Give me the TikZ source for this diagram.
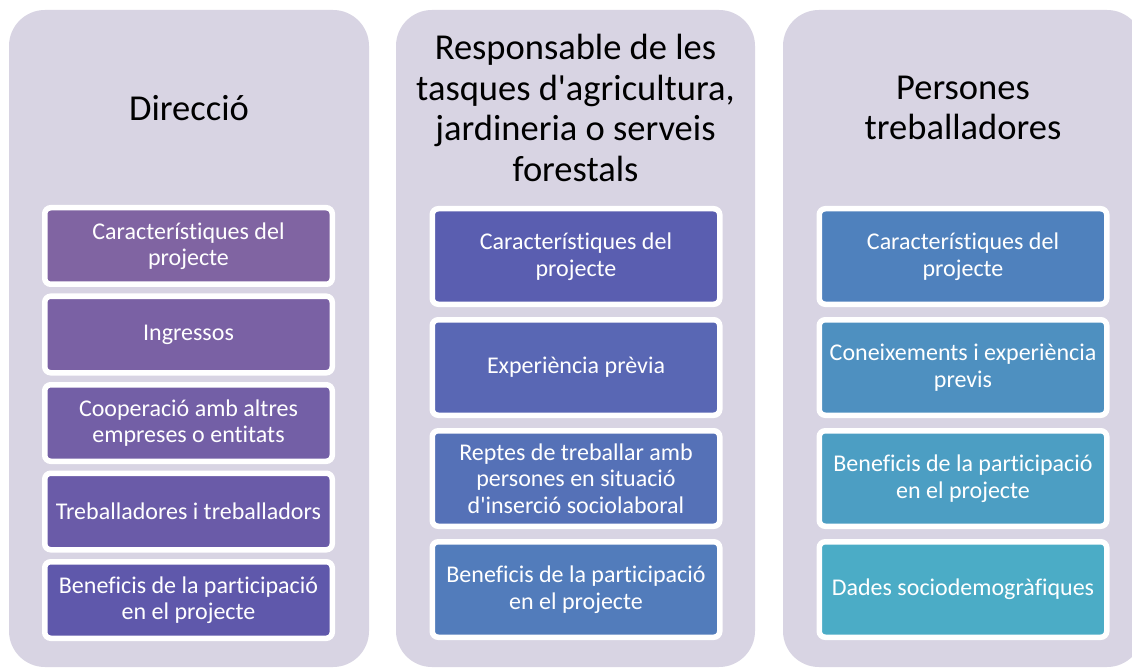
\documentclass[tikz,border=0pt]{standalone}
\usepackage{fontspec}
\setmainfont{Carlito}[Ligatures={TeXOff,NoCommon}]
\definecolor{panelbg}{HTML}{D8D4E3}
\definecolor{pa}{HTML}{8064A2}
\definecolor{pb}{HTML}{7A61A4}
\definecolor{pc}{HTML}{735FA6}
\definecolor{pd}{HTML}{6A5BA8}
\definecolor{pe}{HTML}{5F58AB}
\definecolor{qa}{HTML}{5A5EB0}
\definecolor{qb}{HTML}{5967B4}
\definecolor{qc}{HTML}{5571B7}
\definecolor{qd}{HTML}{527CBB}
\definecolor{ra}{HTML}{4F81BD}
\definecolor{rb}{HTML}{4E90C0}
\definecolor{rc}{HTML}{4C9EC3}
\definecolor{rd}{HTML}{4BACC6}
\tikzset{
  panel/.style={fill=panelbg, rounded corners=36pt},
  title/.style={font=\fontsize{36.5}{40.5}\selectfont, text=black, align=center},
  itembox/.style={draw=white, line width=5.5pt, rounded corners=6pt,
    minimum width=287.5pt, text=white, align=center,
    font=\fontsize{24}{26.5}\selectfont, inner sep=0pt},
  boxa/.style={itembox, minimum height=76.5pt},
  boxb/.style={itembox, minimum height=95.5pt}
}
\begin{document}
\begin{tikzpicture}[x=1pt,y=-1pt]
\fill[white] (0,0) rectangle (1132,668);
\useasboundingbox (0,0) rectangle (1132,668);
% panels
\fill[panel] (9,10) rectangle (369,667);
\fill[panel] (396,10) rectangle (755,667);
\fill[panel] (783,10) rectangle (1143,667);
% titles
\node[title] (t1) at (189,108) {Direcció};
\node[title] (t2) at (575.5,108) {Responsable de les\\tasques d'agricultura,\\jardineria o serveis\\forestals};
\node[title] (t3) at (963,108) {Persones\\treballadores};
% column 1
\node[boxa, fill=pa] (a1) at (188.5,246) {Característiques del\\projecte};
\node[boxa, fill=pb] (a2) at (188.5,334.5) {Ingressos};
\node[boxa, fill=pc] (a3) at (188.5,423) {Cooperació amb altres\\empreses o entitats};
\node[boxa, fill=pd] (a4) at (188.5,511.5) {Treballadores i treballadors};
\node[boxa, fill=pe] (a5) at (188.5,600) {Beneficis de la participació\\en el projecte};
% column 2
\node[boxb, fill=qa] (b1) at (576,256.5) {Característiques del\\projecte};
\node[boxb, fill=qb] (b2) at (576,367.5) {Experiència prèvia};
\node[boxb, fill=qc] (b3) at (576,478.5) {Reptes de treballar amb\\persones en situació\\d'inserció sociolaboral};
\node[boxb, fill=qd] (b4) at (576,589.5) {Beneficis de la participació\\en el projecte};
% column 3
\node[boxb, fill=ra] (c1) at (963,256.5) {Característiques del\\projecte};
\node[boxb, fill=rb] (c2) at (963,367.5) {Coneixements i experiència\\previs};
\node[boxb, fill=rc] (c3) at (963,478.5) {Beneficis de la participació\\en el projecte};
\node[boxb, fill=rd] (c4) at (963,589.5) {Dades sociodemogràfiques};
\end{tikzpicture}
\end{document}
